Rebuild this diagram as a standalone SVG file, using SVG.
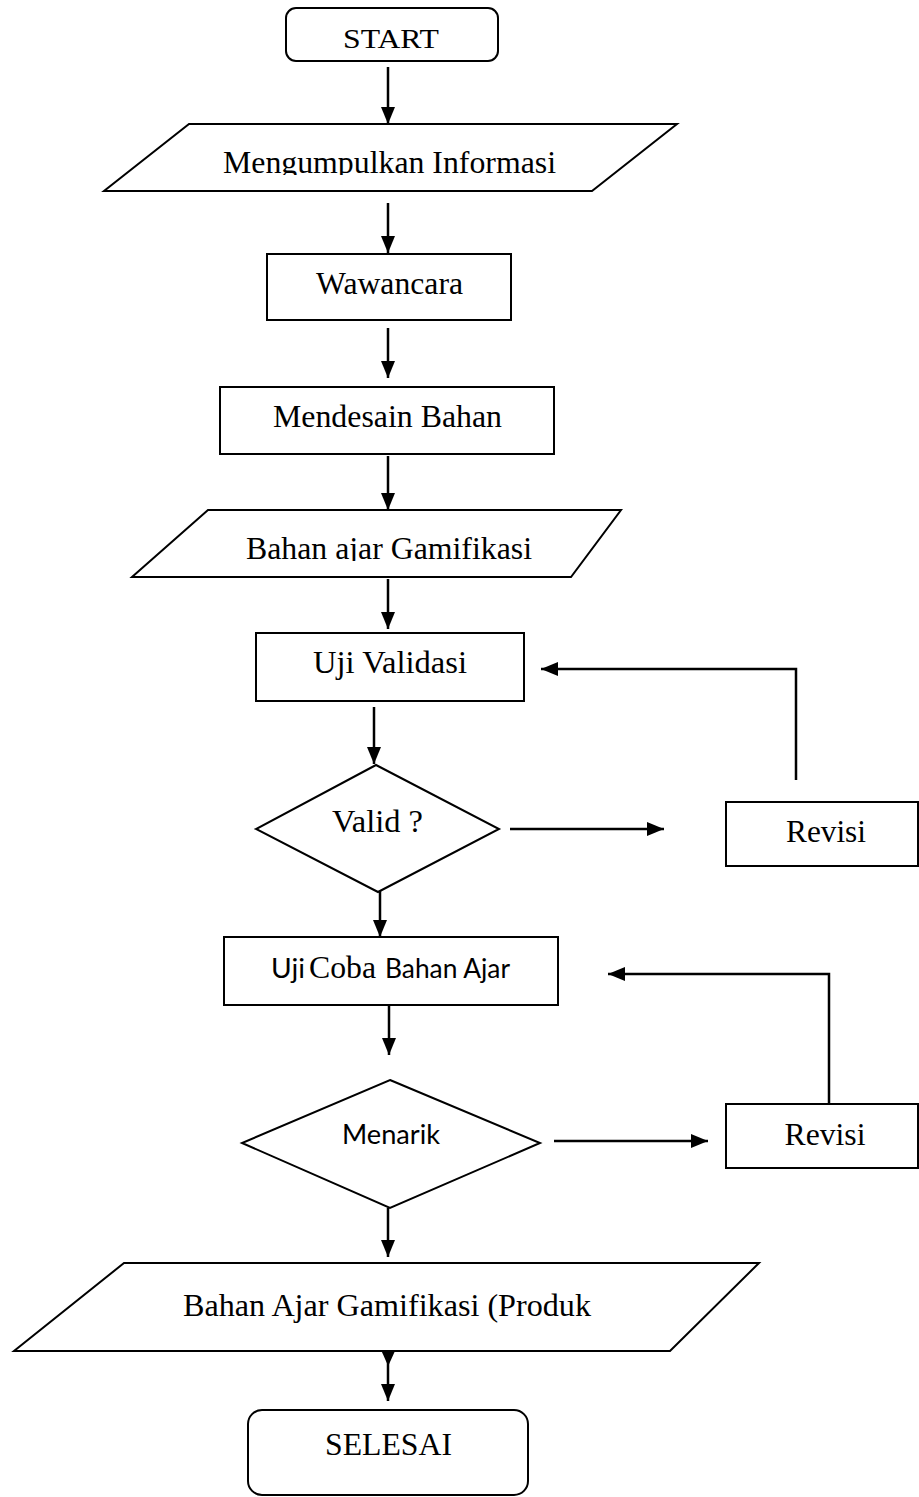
<svg xmlns="http://www.w3.org/2000/svg" width="919" height="1497" viewBox="0 0 919 1497">
<style>
.shape{fill:#fff;stroke:#000;stroke-width:2}
.ser{font-family:"Liberation Serif","Times New Roman",serif;font-size:32px;fill:#000}
.sans{font-family:Lato,"Liberation Sans",sans-serif;font-size:26px;fill:#000}
.conn{fill:none;stroke:#000;stroke-width:2.5}
</style>
<defs>
<marker id="ah" markerUnits="userSpaceOnUse" markerWidth="18" markerHeight="18" viewBox="0 0 18 18" refX="17" refY="9" orient="auto">
<path d="M0,2 L17,9 L0,16 Z" fill="#000"/>
</marker>
<clipPath id="c1"><rect x="0" y="120" width="919" height="55"/></clipPath>
<clipPath id="c2"><rect x="0" y="510" width="919" height="51"/></clipPath>
</defs>
<rect width="919" height="1497" fill="#fff"/>
<g id="connectors">
<line class="conn" x1="388" y1="67" x2="388" y2="124" marker-end="url(#ah)"/>
<line class="conn" x1="388" y1="203" x2="388" y2="253" marker-end="url(#ah)"/>
<line class="conn" x1="388" y1="328" x2="388" y2="378" marker-end="url(#ah)"/>
<line class="conn" x1="388" y1="456" x2="388" y2="510" marker-end="url(#ah)"/>
<line class="conn" x1="388" y1="579" x2="388" y2="629" marker-end="url(#ah)"/>
<line class="conn" x1="374" y1="707" x2="374" y2="764" marker-end="url(#ah)"/>
<line class="conn" x1="510" y1="829" x2="664" y2="829" marker-end="url(#ah)"/>
<polyline class="conn" points="796,780 796,669 541,669" marker-end="url(#ah)"/>
<line class="conn" x1="380" y1="883" x2="380" y2="937" marker-end="url(#ah)"/>
<polyline class="conn" points="829,1104 829,974 608,974" marker-end="url(#ah)"/>
<line class="conn" x1="389" y1="1005" x2="389" y2="1055" marker-end="url(#ah)"/>
<line class="conn" x1="554" y1="1141" x2="708" y2="1141" marker-end="url(#ah)"/>
<line class="conn" x1="388" y1="1208" x2="388" y2="1257" marker-end="url(#ah)"/>
<line class="conn" x1="388" y1="1351" x2="388" y2="1401" marker-end="url(#ah)"/>
<polygon points="381.5,1351 395,1351 388.2,1366" fill="#000"/>
</g>
<g id="start">
<rect class="shape" x="286" y="8" width="212" height="53" rx="10"/>
<text class="ser" x="391" y="48" text-anchor="middle" textLength="96" lengthAdjust="spacingAndGlyphs" style="font-size:27px">START</text>
</g>
<g id="mengumpulkan">
<polygon class="shape" points="189,124 677,124 592,191 104,191"/>
<text class="ser" x="389.5" y="173" text-anchor="middle" textLength="333" lengthAdjust="spacingAndGlyphs" clip-path="url(#c1)">Mengumpulkan Informasi</text>
</g>
<g id="wawancara">
<rect class="shape" x="267" y="254" width="244" height="66"/>
<text class="ser" x="389.5" y="294" text-anchor="middle" textLength="147" lengthAdjust="spacingAndGlyphs">Wawancara</text>
</g>
<g id="mendesain">
<rect class="shape" x="220" y="387" width="334" height="67"/>
<text class="ser" x="387.5" y="427" text-anchor="middle" textLength="229" lengthAdjust="spacingAndGlyphs">Mendesain Bahan</text>
</g>
<g id="bahan-ajar">
<polygon class="shape" points="208,510 621,510 571,577 132,577"/>
<text class="ser" x="389" y="559" text-anchor="middle" textLength="286" lengthAdjust="spacingAndGlyphs" clip-path="url(#c2)">Bahan ajar Gamifikasi</text>
</g>
<g id="uji-validasi">
<rect class="shape" x="256" y="633" width="268" height="68"/>
<text class="ser" x="390" y="673" text-anchor="middle" textLength="154" lengthAdjust="spacingAndGlyphs">Uji Validasi</text>
</g>
<g id="valid">
<polygon class="shape" points="376,765 499,829 378,892 256,829"/>
<text class="ser" x="377.5" y="832" text-anchor="middle" textLength="91" lengthAdjust="spacingAndGlyphs">Valid ?</text>
</g>
<g id="revisi1">
<rect class="shape" x="726" y="802" width="192" height="64"/>
<text class="ser" x="826" y="842" text-anchor="middle" textLength="80" lengthAdjust="spacingAndGlyphs">Revisi</text>
</g>
<g id="uji-coba">
<rect class="shape" x="224" y="937" width="334" height="68"/>
<text y="978"><tspan class="sans" x="271" textLength="34" lengthAdjust="spacingAndGlyphs">Uji</tspan><tspan class="ser" x="309" textLength="67" lengthAdjust="spacingAndGlyphs">Coba</tspan><tspan class="sans" x="385" textLength="125" lengthAdjust="spacingAndGlyphs">Bahan Ajar</tspan></text>
</g>
<g id="menarik">
<polygon class="shape" points="390,1080 540,1143 390,1208 242,1143"/>
<text class="sans" x="391" y="1144" text-anchor="middle" textLength="98" lengthAdjust="spacingAndGlyphs">Menarik</text>
</g>
<g id="revisi2">
<rect class="shape" x="726" y="1104" width="192" height="64"/>
<text class="ser" x="825" y="1145" text-anchor="middle" textLength="81" lengthAdjust="spacingAndGlyphs">Revisi</text>
</g>
<g id="produk">
<polygon class="shape" points="124,1263 759,1263 670,1351 14,1351"/>
<text class="ser" x="183" y="1316" textLength="408" lengthAdjust="spacingAndGlyphs">Bahan Ajar Gamifikasi (Produk</text>
</g>
<g id="selesai">
<rect class="shape" x="248" y="1410" width="280" height="85" rx="14"/>
<text class="ser" x="388.5" y="1455" text-anchor="middle" textLength="127" lengthAdjust="spacingAndGlyphs">SELESAI</text>
</g>
</svg>
